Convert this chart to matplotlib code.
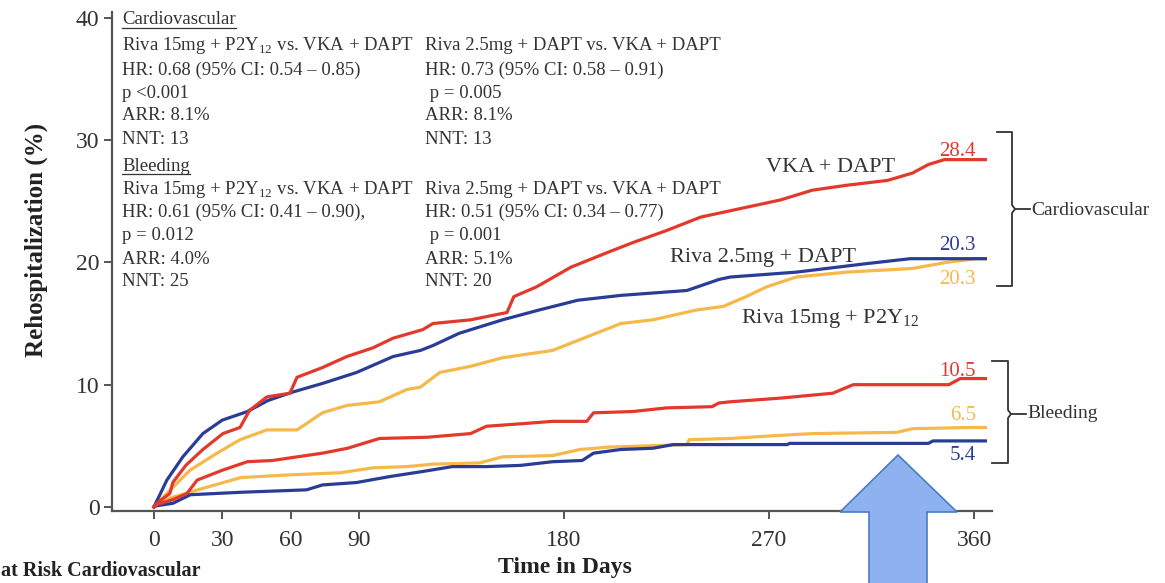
import matplotlib
matplotlib.use("Agg")
import matplotlib.pyplot as plt
from matplotlib.lines import Line2D
from matplotlib.patches import Polygon

plt.rcParams["font.family"] = ["Liberation Serif", "DejaVu Serif"]
plt.rcParams["mathtext.fontset"] = "custom"
plt.rcParams["mathtext.rm"] = "Liberation Serif"

# ---- data (days, %) ----
vka_cv_days = [0, 1.3, 7, 8.3, 14, 21.5, 30.3, 37.8, 42, 49.6, 59.7, 62.8, 74, 84.7, 96, 105, 118,
               122.5, 139, 155, 158, 168, 183, 199, 210, 225, 240, 260, 275, 289, 304, 322, 333,
               340, 347, 365]
vka_cv_pct = [0, 0.3, 1.1, 2.0, 3.4, 4.7, 6.0, 6.5, 7.9, 9.0, 9.3, 10.6, 11.4, 12.3, 13.0, 13.8, 14.5,
              15.0, 15.3, 15.9, 17.2, 18.0, 19.6, 20.8, 21.6, 22.6, 23.7, 24.5, 25.1, 25.9, 26.3, 26.7,
              27.3, 28.0, 28.4, 28.4]

riva25_cv_days = [0, 1.3, 5.7, 12.7, 21.5, 30, 41, 50, 61, 74, 89, 105, 117, 122.5, 134, 153, 169,
                  186, 205, 234, 248, 253, 282, 313, 332, 365]
riva25_cv_pct = [0, 0.5, 2.2, 4.1, 6.0, 7.1, 7.8, 8.7, 9.4, 10.1, 11.0, 12.3, 12.8, 13.2, 14.2, 15.3,
                 16.1, 16.9, 17.3, 17.7, 18.6, 18.8, 19.2, 19.9, 20.3, 20.3]

riva15_cv_days = [0, 1.3, 8.3, 15.8, 27.7, 37.8, 49.6, 62.8, 74, 84.7, 99, 111, 117, 125.5, 139, 153,
                  175, 190, 205, 219, 238, 250, 260, 269, 282, 304, 333, 348, 361, 365]
riva15_cv_pct = [0, 0.3, 1.6, 3.0, 4.4, 5.5, 6.3, 6.3, 7.7, 8.3, 8.6, 9.6, 9.8, 11.0, 11.5, 12.2,
                 12.8, 13.9, 15.0, 15.3, 16.1, 16.4, 17.2, 18.0, 18.8, 19.2, 19.5, 20.0, 20.3, 20.3]

vka_bl_days = [0, 1.3, 8.3, 14.5, 19, 30, 41, 52, 63, 74, 85, 99, 120, 139, 146, 161, 175, 190, 193,
               210, 225, 245, 248, 253, 275, 298, 307, 349, 354, 365]
vka_bl_pct = [0, 0.2, 0.6, 1.1, 2.2, 3.0, 3.7, 3.8, 4.1, 4.4, 4.8, 5.6, 5.7, 6.0, 6.6, 6.8, 7.0, 7.0,
              7.7, 7.8, 8.1, 8.2, 8.5, 8.6, 8.9, 9.3, 10.0, 10.0, 10.5, 10.5]

riva15_bl_days = [0, 1.3, 8.3, 23, 38, 57, 82, 96, 111, 122.5, 143, 153, 175, 187, 200, 234, 235,
                  253, 270, 289, 326, 333, 359, 365]
riva15_bl_pct = [0, 0.2, 0.8, 1.6, 2.4, 2.6, 2.8, 3.2, 3.3, 3.5, 3.6, 4.1, 4.2, 4.7, 4.9, 5.1, 5.5,
                 5.6, 5.8, 6.0, 6.1, 6.4, 6.5, 6.5]

riva25_bl_days = [0, 1.3, 8.3, 16, 38, 67, 74, 89, 104, 118, 131, 146, 161, 175, 188, 193, 205, 219,
                  228, 278, 279, 340, 342, 365]
riva25_bl_pct = [0, 0.1, 0.3, 1.0, 1.2, 1.4, 1.8, 2.0, 2.5, 2.9, 3.3, 3.3, 3.4, 3.7, 3.8, 4.4, 4.7,
                 4.8, 5.1, 5.1, 5.2, 5.2, 5.4, 5.4]

x_ticks = [0, 30, 60, 90, 180, 270, 360]
y_ticks = [0, 10, 20, 30, 40]

RED = "#e3392c"
BLUE = "#2a3d96"
YELLOW = "#f7b84a"
TXT = "#333333"
W, H = 1165, 583


def fx(px):
    return px / W


def fy(py):
    return 1 - py / H


fig = plt.figure(figsize=(11.65, 5.83), dpi=100)
ax = fig.add_axes([fx(112), fy(511), (992 - 112) / W, (511 - 12) / H])

series = [
    (riva15_bl_days, riva15_bl_pct, YELLOW),
    (riva25_bl_days, riva25_bl_pct, BLUE),
    (vka_bl_days, vka_bl_pct, RED),
    (riva15_cv_days, riva15_cv_pct, YELLOW),
    (riva25_cv_days, riva25_cv_pct, BLUE),
    (vka_cv_days, vka_cv_pct, RED),
]
for d, p, c in series:
    ax.plot(d, p, color=c, lw=2.3)

ax.set_xlim(-18.4, 367.9)
ax.set_ylim(-0.33, 40.47)
ax.set_xticks(x_ticks)
ax.set_yticks(y_ticks)
for s in ["top", "right"]:
    ax.spines[s].set_visible(False)
for s in ["left", "bottom"]:
    ax.spines[s].set_color("#555555")
    ax.spines[s].set_linewidth(1.6)
ax.tick_params(axis="y", direction="out", length=6, width=1.4, color="#555555",
               labelsize=17, labelcolor=TXT, pad=3)
ax.tick_params(axis="x", direction="out", length=6, width=1.4, color="#555555",
               labelsize=17, labelcolor=TXT, pad=8)

# end values
end_labels = [
    ("28.4", RED, 152),
    ("20.3", BLUE, 246),
    ("20.3", YELLOW, 280),
    ("10.5", RED, 372),
    ("6.5", YELLOW, 415),
    ("5.4", BLUE, 455),
]
for lab, c, py in end_labels:
    fig.text(fx(976), fy(py), lab, color=c, fontsize=15, ha="right", va="center")

# curve names
fig.text(fx(831), fy(167), "VKA + DAPT", color=TXT, fontsize=16, ha="center", va="center")
fig.text(fx(763), fy(258), "Riva 2.5mg + DAPT", color=TXT, fontsize=16, ha="center", va="center")
fig.text(fx(830), fy(318), r"Riva 15mg + P2Y$_\mathrm{12}$", color=TXT, fontsize=16,
         ha="center", va="center")

# statistics block
col1 = [
    (20, "Cardiovascular"),
    (45, r"Riva 15mg + P2Y$_\mathrm{12}$ vs. VKA + DAPT"),
    (70, "HR: 0.68 (95% CI: 0.54 – 0.85)"),
    (93, "p <0.001"),
    (116, "ARR: 8.1%"),
    (139, "NNT: 13"),
    (166, "Bleeding"),
    (189, r"Riva 15mg + P2Y$_\mathrm{12}$ vs. VKA + DAPT"),
    (212, "HR: 0.61 (95% CI: 0.41 – 0.90),"),
    (235, "p = 0.012"),
    (259, "ARR: 4.0%"),
    (282, "NNT: 25"),
]
col2 = [
    (45, "Riva 2.5mg + DAPT vs. VKA + DAPT"),
    (70, "HR: 0.73 (95% CI: 0.58 – 0.91)"),
    (93, " p = 0.005"),
    (116, "ARR: 8.1%"),
    (139, "NNT: 13"),
    (189, "Riva 2.5mg + DAPT vs. VKA + DAPT"),
    (212, "HR: 0.51 (95% CI: 0.34 – 0.77)"),
    (235, " p = 0.001"),
    (259, "ARR: 5.1%"),
    (282, "NNT: 20"),
]
heads = []
for py, t in col1:
    tt = fig.text(fx(122), fy(py), t, color=TXT, fontsize=13.5, ha="left", va="center")
    if t in ("Cardiovascular", "Bleeding"):
        heads.append(tt)
for py, t in col2:
    fig.text(fx(425), fy(py), t, color=TXT, fontsize=13.5, ha="left", va="center")

# axis titles
fig.text(fx(36), fy(240), "Rehospitalization (%)", rotation=90, fontsize=18, fontweight="bold",
         color="#222222", ha="center", va="center")
fig.text(fx(565), fy(568), "Time in Days", fontsize=17, fontweight="bold", color="#222222",
         ha="center", va="center")
fig.text(fx(1), fy(571), "at Risk Cardiovascular", fontsize=14.5, fontweight="bold",
         color="#222222", ha="left", va="center")


# brackets on the right
def bracket(x0, x1, x2, ytop, ymid, ybot):
    kw = dict(color="#333333", lw=1.3, transform=fig.transFigure)
    xs = [fx(x0), fx(x1), fx(x1), fx(x1 + 3), fx(x1), fx(x1), fx(x0)]
    ys = [fy(ytop), fy(ytop), fy(ymid - 4), fy(ymid), fy(ymid + 4), fy(ybot), fy(ybot)]
    fig.add_artist(Line2D(xs, ys, **kw))
    fig.add_artist(Line2D([fx(x1 + 3), fx(x2)], [fy(ymid), fy(ymid)], **kw))


bracket(997, 1012, 1030, 132, 209, 286)
fig.text(fx(1031), fy(210), "Cardiovascular", fontsize=14, color=TXT, ha="left", va="center")
bracket(992, 1008, 1026, 361, 414, 463)
fig.text(fx(1027), fy(414), "Bleeding", fontsize=14, color=TXT, ha="left", va="center")

# big blue arrow
arrow_px = [(898, 455), (957, 512), (927, 512), (927, 590), (869, 590), (869, 512), (840, 512)]
arrow = Polygon([(fx(a), fy(b)) for a, b in arrow_px], closed=True, transform=fig.transFigure,
                facecolor="#8db2ef", edgecolor="#4a7cc0", lw=1.2, zorder=10)
fig.add_artist(arrow)

# underline the two headings
fig.canvas.draw()
r = fig.canvas.get_renderer()
for tt in heads:
    bb = tt.get_window_extent(renderer=r)
    yline = bb.y0 + 1
    fig.add_artist(Line2D([bb.x0 / W, bb.x1 / W], [yline / H, yline / H], color=TXT, lw=0.9,
                          transform=fig.transFigure))

fig.savefig("out.png", dpi=100)
plt.close(fig)
